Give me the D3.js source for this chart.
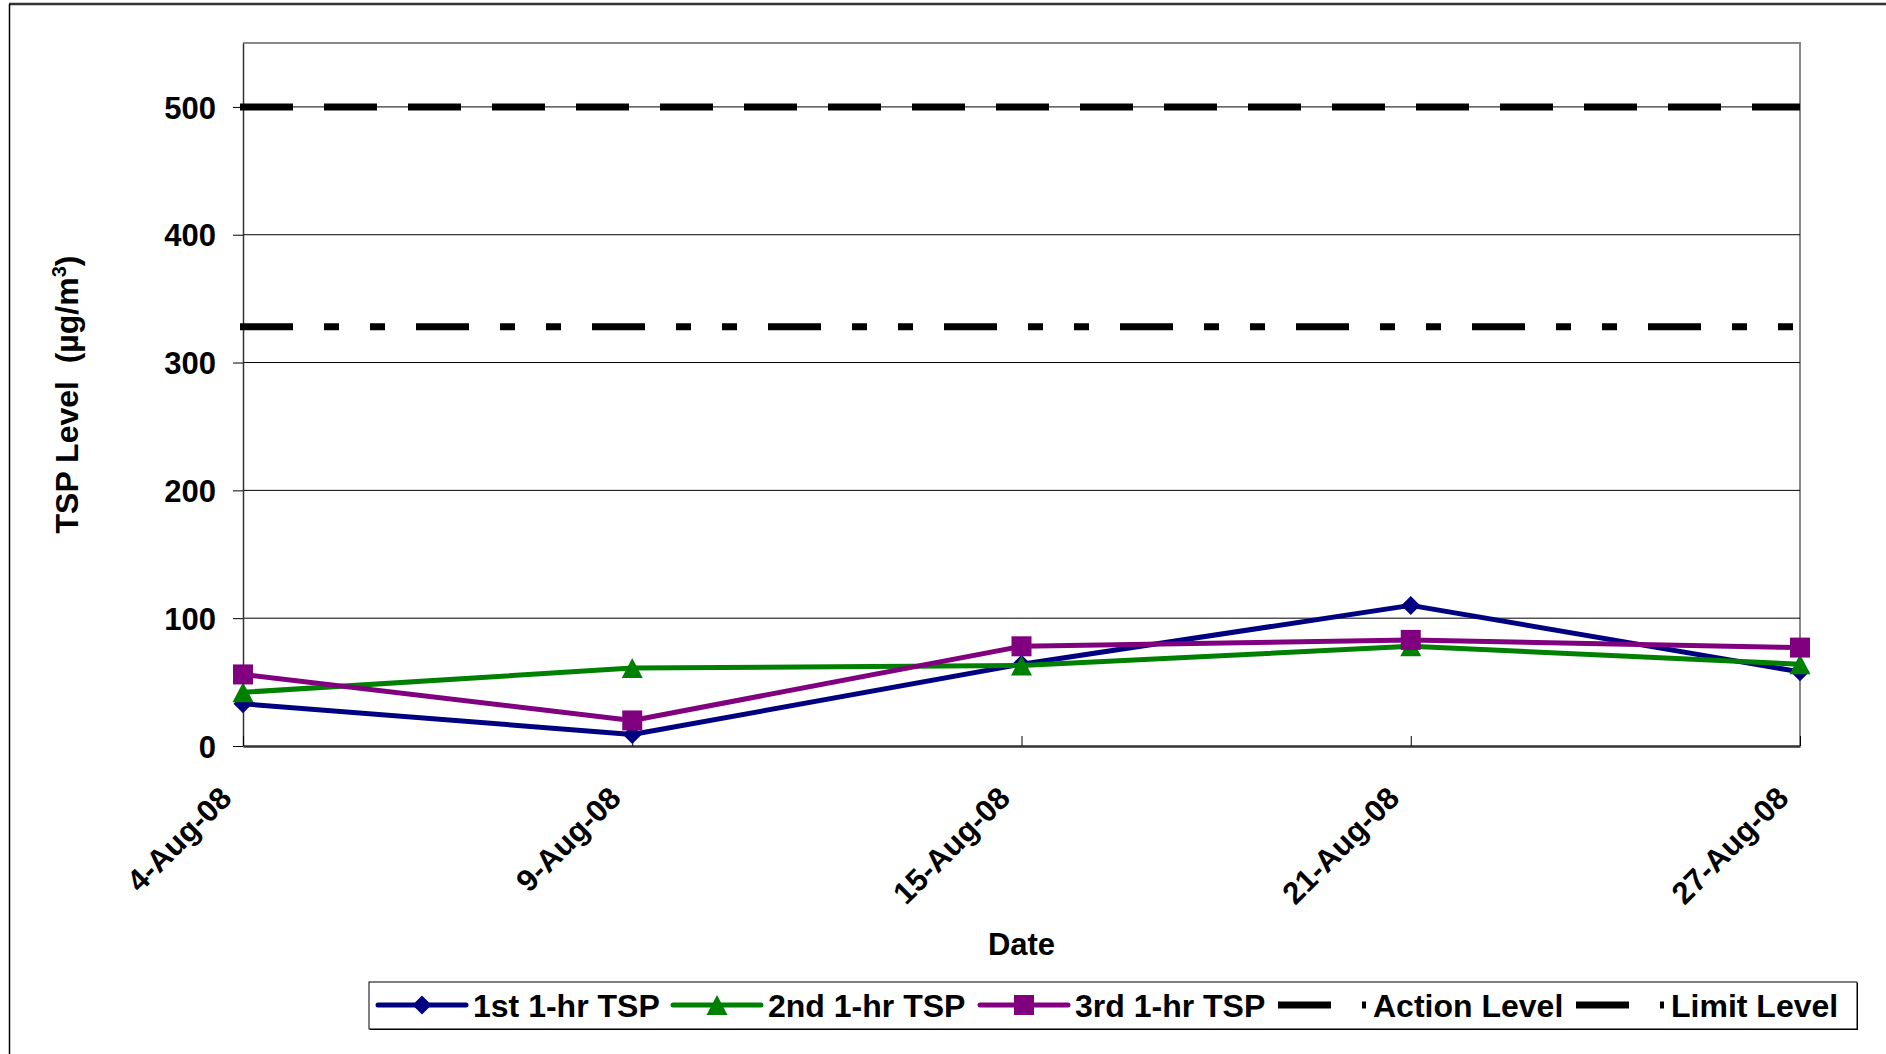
<!DOCTYPE html>
<html>
<head>
<meta charset="utf-8">
<script src="https://cdn.jsdelivr.net/npm/d3@7"></script>
<style>
  body { margin: 0; background: #fff; }
  svg { display: block; font-family: 'Liberation Sans', Arial, sans-serif; font-weight: bold; }
</style>
</head>
<body>
<svg width="1886" height="1054"></svg>
<script>
const dates = ['4-Aug-08', '9-Aug-08', '15-Aug-08', '21-Aug-08', '27-Aug-08'];
const tsp1 = [33, 9, 64, 110, 58];
const tsp2 = [42, 61, 63, 78, 64];
const tsp3 = [56, 20, 78, 83, 77];
const actionLevel = 328;
const limitLevel = 500;
const yTicks = [0, 100, 200, 300, 400, 500];
const yMax = 550;

const plot = { left: 243, right: 1800, top: 43, bottom: 746 };
const fontSize = 31;

const svg = d3.select('svg');

// outer chart border (mostly cut off by the frame)
svg.append('line')
    .attr('x1', 9).attr('x2', 1886).attr('y1', 4).attr('y2', 4)
    .attr('stroke', '#333').attr('stroke-width', 2.5);
svg.append('line')
    .attr('x1', 9.5).attr('x2', 9.5).attr('y1', 4).attr('y2', 1054)
    .attr('stroke', '#000').attr('stroke-width', 1.5);

const x = d3.scalePoint().domain(dates).range([plot.left, plot.right]);
const y = d3.scaleLinear().domain([0, yMax]).range([plot.bottom, plot.top]);

// plot area frame (top and right, grey)
svg.append('path')
    .attr('d', `M${plot.left},${plot.top}H${plot.right}V${plot.bottom}`)
    .attr('fill', 'none').attr('stroke', '#888').attr('stroke-width', 2);

// gridlines
svg.append('g')
  .selectAll('line')
  .data(yTicks.filter(d => d > 0))
  .enter()
  .append('line')
    .attr('x1', plot.left).attr('x2', plot.right)
    .attr('y1', d => y(d)).attr('y2', d => y(d))
    .attr('stroke', '#000').attr('stroke-width', 1);

// y axis
const yAxis = svg.append('g')
    .attr('transform', `translate(${plot.left},0)`)
    .call(d3.axisLeft(y).tickValues(yTicks).tickSizeInner(10).tickSizeOuter(0).tickPadding(17));
yAxis.select('.domain').attr('stroke', '#333').attr('stroke-width', 1.5);
yAxis.selectAll('.tick line').attr('stroke', '#000');
yAxis.selectAll('text')
    .attr('font-size', fontSize).attr('font-family', 'Liberation Sans, Arial, sans-serif')
    .attr('font-weight', 'bold').attr('fill', '#000').attr('dy', '0.36em');

// x axis
const xAxis = svg.append('g')
    .attr('transform', `translate(0,${plot.bottom})`)
    .call(d3.axisBottom(x).tickSizeInner(-10).tickSizeOuter(0));
xAxis.select('.domain').attr('stroke', '#333').attr('stroke-width', 2.5);
xAxis.selectAll('.tick line').attr('stroke', '#000');
xAxis.selectAll('text')
    .attr('font-size', fontSize).attr('font-family', 'Liberation Sans, Arial, sans-serif')
    .attr('font-weight', 'bold').attr('fill', '#000')
    .attr('text-anchor', 'end')
    .attr('x', 0).attr('y', 0).attr('dy', 0)
    .attr('transform', 'translate(-10,54) rotate(-45)');

// axis titles
svg.append('text')
    .attr('x', (plot.left + plot.right) / 2).attr('y', 955)
    .attr('text-anchor', 'middle').attr('font-size', fontSize)
    .text('Date');

const yTitle = svg.append('text')
    .attr('transform', `translate(78,${(plot.top + plot.bottom) / 2}) rotate(-90)`)
    .attr('text-anchor', 'middle').attr('font-size', 32)
    .style('white-space', 'pre');
yTitle.append('tspan').text('TSP Level  (\u00b5g/m');
yTitle.append('tspan').attr('font-size', 20).attr('dy', -12).text('3');
yTitle.append('tspan').attr('dy', 12).text(')');

// markers
const markers = {
  diamond: 'M0,-9.5L9.5,0L0,9.5L-9.5,0Z',
  triangle: 'M0,-10L10.5,10L-10.5,10Z',
  square: 'M-10,-10H10V10H-10Z'
};

const series = [
  { name: '1st 1-hr TSP', values: tsp1, color: '#000080', marker: 'diamond' },
  { name: '2nd 1-hr TSP', values: tsp2, color: '#008000', marker: 'triangle' },
  { name: '3rd 1-hr TSP', values: tsp3, color: '#800080', marker: 'square' }
];

const levels = [
  { name: 'Action Level', value: actionLevel, dash: '53,31,15,31,15,31' },
  { name: 'Limit Level', value: limitLevel, dash: '53,31' }
];

const line = d3.line()
    .x((d, i) => x(dates[i]))
    .y(d => y(d));

series.forEach(s => {
  const g = svg.append('g');
  g.append('path')
      .datum(s.values)
      .attr('d', line)
      .attr('fill', 'none')
      .attr('stroke', s.color)
      .attr('stroke-width', 5)
      .attr('stroke-linejoin', 'round');
  g.selectAll('path.marker')
      .data(s.values)
      .enter()
      .append('path')
      .attr('class', 'marker')
      .attr('d', markers[s.marker])
      .attr('transform', (d, i) => `translate(${x(dates[i])},${y(d)})`)
      .attr('fill', s.color);
});

levels.forEach(l => {
  svg.append('line')
      .attr('x1', x(dates[0]) - 3).attr('x2', x(dates[dates.length - 1]))
      .attr('y1', y(l.value)).attr('y2', y(l.value))
      .attr('stroke', '#000')
      .attr('stroke-width', 7)
      .attr('stroke-dasharray', l.dash);
});

// legend
const legend = { left: 369, top: 982, width: 1488, height: 47, lineY: 1005, baseY: 1017 };
const legendSlots = [378, 673, 980, 1278, 1576];
svg.append('rect')
    .attr('x', legend.left + 1).attr('y', legend.top + 1)
    .attr('width', legend.width).attr('height', legend.height)
    .attr('fill', '#000');
svg.append('rect')
    .attr('x', legend.left).attr('y', legend.top)
    .attr('width', legend.width).attr('height', legend.height)
    .attr('fill', '#fff').attr('stroke', '#000').attr('stroke-width', 1);

const legendItems = series.map(s => ({ name: s.name, color: s.color, marker: s.marker, dash: null, width: 5 }))
    .concat(levels.map(l => ({ name: l.name, color: '#000', marker: null, dash: l.dash, width: 7 })));

legendItems.forEach((item, i) => {
  const cx = legendSlots[i];
  const g = svg.append('g');
  g.append('line')
      .attr('x1', cx).attr('x2', cx + 88)
      .attr('y1', legend.lineY).attr('y2', legend.lineY)
      .attr('stroke', item.color)
      .attr('stroke-width', item.width)
      .attr('stroke-linecap', item.dash ? 'butt' : 'round')
      .attr('stroke-dasharray', item.dash);
  if (item.marker) {
    g.append('path')
        .attr('d', markers[item.marker])
        .attr('transform', `translate(${cx + 44},${legend.lineY})`)
        .attr('fill', item.color);
  }
  g.append('text')
      .attr('x', cx + 95).attr('y', legend.baseY)
      .attr('font-size', 32)
      .text(item.name);
});
</script>
</body>
</html>
